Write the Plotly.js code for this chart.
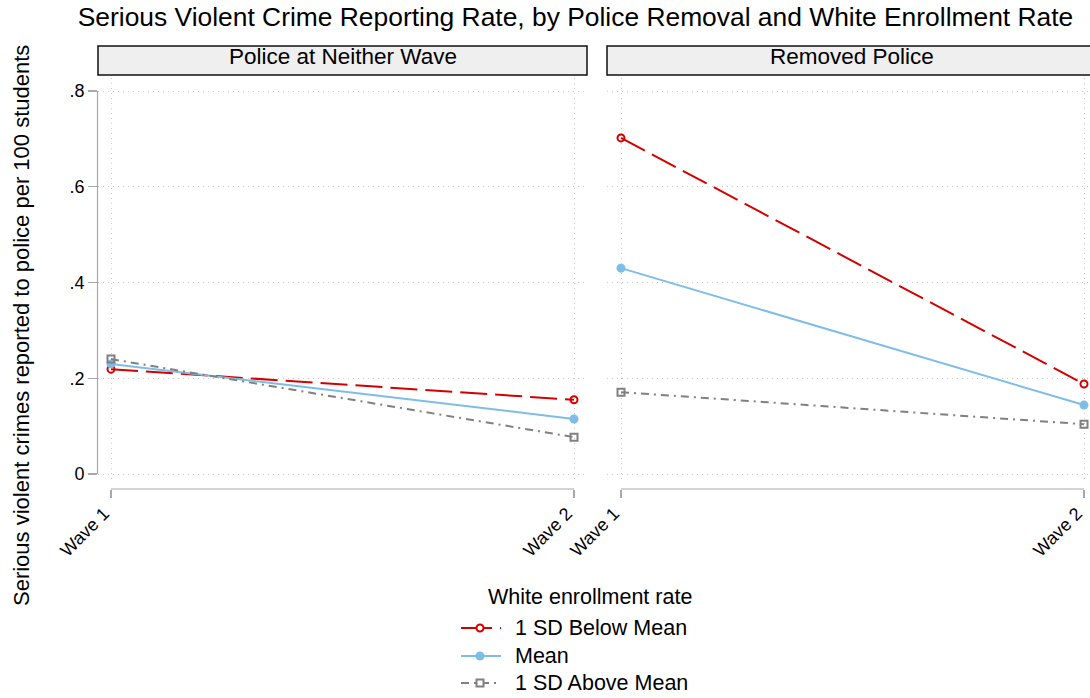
<!DOCTYPE html>
<html>
<head>
<meta charset="utf-8">
<script src="https://cdn.plot.ly/plotly-3.0.1.min.js"></script>
<style>
  html, body { margin: 0; padding: 0; background: #fff; }
  #chart { width: 1090px; height: 698px; }
</style>
</head>
<body>
<div id="chart"></div>
<script>
// Waves on the x axis
const waves = [1, 2];
const waveLabels = ["Wave 1", "Wave 2"];

// Panel headers
const panelTitles = ["Police at Neither Wave", "Removed Police"];

// Predicted serious violent crime reports per 100 students
// Panel 1: police at neither wave
const neitherBelow = [0.219, 0.155];
const neitherMean  = [0.230, 0.115];
const neitherAbove = [0.240, 0.077];
// Panel 2: removed police
const removedBelow = [0.702, 0.188];
const removedMean  = [0.430, 0.144];
const removedAbove = [0.171, 0.104];

// Y tick values and labels
const yTickVals = [0, 0.2, 0.4, 0.6, 0.8];
const yTickText = ["0", ".2", ".4", ".6", ".8"];

const seriesNames = ["1 SD Below Mean", "Mean", "1 SD Above Mean"];
const legendTitle = "White enrollment rate";

const W = 1090, H = 698;
const px = v => v / W;            // horizontal pixel -> paper fraction
const py = v => 1 - v / H;        // vertical pixel -> paper fraction

const FONT = "Liberation Sans, Arial, sans-serif";

const styles = [
  { color: "#d40000", dash: "27px,8px", symbol: "circle-open", size: 7, mline: 2 },
  { color: "#7dbde8", dash: "solid",   symbol: "circle",      size: 9, mline: 0 },
  { color: "#808080", dash: "8px,5px,2px,5px", symbol: "square-open", size: 7, mline: 2 }
];

function trace(y, i, xa, ya) {
  const s = styles[i];
  return {
    x: waves, y: y, type: "scatter", mode: "lines+markers",
    name: seriesNames[i], xaxis: xa, yaxis: ya, showlegend: false,
    line: { color: s.color, width: 2, dash: s.dash },
    marker: { color: s.color, symbol: s.symbol, size: s.size,
              line: { color: s.color, width: s.mline } },
    cliponaxis: false,
    hoverinfo: "x+y"
  };
}

const data = [
  trace(neitherBelow, 0, "x", "y"),
  trace(neitherMean,  1, "x", "y"),
  trace(neitherAbove, 2, "x", "y"),
  trace(removedBelow, 0, "x2", "y2"),
  trace(removedMean,  1, "x2", "y2"),
  trace(removedAbove, 2, "x2", "y2")
];

const gridColor = "#c8c8c8";
const gridDash = "1px,4px";
const axisColor = "#a8a8a8";
const yDomain = [py(482), py(78)];
const yRange = [-0.0167, 0.8272];
const xAxisPos = py(489);

function xAxis(domain, range) {
  return {
    domain: domain, range: range, anchor: "free", position: xAxisPos,
    tickvals: waves, ticktext: waveLabels, tickangle: -45,
    ticks: "outside", ticklen: 8, tickwidth: 1.2, tickcolor: axisColor,
    ticklabeloverflow: "allow", ticklabelshift: -7, ticklabelstandoff: -2,
    showline: false, zeroline: false,
    showgrid: true, gridcolor: gridColor, griddash: gridDash, gridwidth: 1,
    tickfont: { family: FONT, size: 18, color: "#000" },
    fixedrange: true
  };
}

function yAxis(anchor, showLabels) {
  return {
    domain: yDomain, range: yRange, anchor: anchor,
    tickvals: yTickVals, ticktext: yTickText,
    ticks: showLabels ? "outside" : "", ticklen: 9, tickwidth: 1.2, tickcolor: axisColor,
    showticklabels: showLabels,
    showline: false, zeroline: false,
    showgrid: true, gridcolor: gridColor, griddash: gridDash, gridwidth: 1,
    tickfont: { family: FONT, size: 18, color: "#000" },
    fixedrange: true
  };
}

const shapes = [
  // y axis line spanning the tick range
  { type: "line", xref: "paper", yref: "y", x0: px(97.5), x1: px(97.5), y0: 0, y1: 0.8,
    line: { color: axisColor, width: 1.2 } },
  // x axis lines between the first and last wave
  { type: "line", xref: "x", yref: "paper", x0: 1, x1: 2, y0: xAxisPos, y1: xAxisPos,
    line: { color: axisColor, width: 1.2 } },
  { type: "line", xref: "x2", yref: "paper", x0: 1, x1: 2, y0: xAxisPos, y1: xAxisPos,
    line: { color: axisColor, width: 1.2 } },
  // panel header boxes
  { type: "rect", xref: "paper", yref: "paper", x0: px(98), x1: px(587), y0: py(75), y1: py(46),
    fillcolor: "#efefef", line: { color: "#111", width: 1.5 } },
  { type: "rect", xref: "paper", yref: "paper", x0: px(607), x1: px(1100), y0: py(75), y1: py(46),
    fillcolor: "#efefef", line: { color: "#111", width: 1.5 } }
];

const annotations = [
  { text: panelTitles[0], xref: "paper", yref: "paper", x: px(342.5), y: py(57),
    xanchor: "center", yanchor: "middle",
    showarrow: false, font: { family: FONT, size: 22.5, color: "#000" } },
  { text: panelTitles[1], xref: "paper", yref: "paper", x: px(852), y: py(57),
    xanchor: "center", yanchor: "middle",
    showarrow: false, font: { family: FONT, size: 22.5, color: "#000" } },
  { text: "Serious violent crimes reported to police per 100 students",
    xref: "paper", yref: "paper", x: px(22), y: py(326), textangle: -90,
    xanchor: "center", yanchor: "middle",
    showarrow: false, font: { family: FONT, size: 22, color: "#000" } }
];

// Legend: title, then one row per series with a line/marker key and its name
const legendFont = { family: FONT, size: 21.5, color: "#000" };
const keyX0 = 461, keyX1 = 501, keyMid = 480, textX = 513;
const rowY = [628, 656, 683];
annotations.push({ text: legendTitle, xref: "paper", yref: "paper",
  x: px(590), y: py(597), xanchor: "center", yanchor: "middle",
  showarrow: false, font: legendFont });
seriesNames.forEach((name, i) => {
  const s = styles[i];
  const yy = rowY[i];
  const keyDash = i === 0 ? "31px,8px" : s.dash;
  shapes.push({ type: "line", xref: "paper", yref: "paper",
    x0: px(keyX0), x1: px(keyX1), y0: py(yy), y1: py(yy),
    line: { color: s.color, width: 2, dash: keyDash } });
  const r = s.size / 2;
  shapes.push({ type: s.symbol.startsWith("square") ? "rect" : "circle",
    xref: "paper", yref: "paper",
    x0: px(keyMid - r), x1: px(keyMid + r), y0: py(yy + r), y1: py(yy - r),
    fillcolor: s.mline ? "#fff" : s.color,
    line: { color: s.color, width: s.mline ? 2 : 0 } });
  annotations.push({ text: name, xref: "paper", yref: "paper",
    x: px(textX), y: py(yy), xanchor: "left", yanchor: "middle",
    showarrow: false, font: legendFont });
});

const layout = {
  width: W, height: H,
  margin: { l: 0, r: 0, t: 0, b: 0 },
  paper_bgcolor: "#fff", plot_bgcolor: "#fff",
  font: { family: FONT, color: "#000" },
  title: { text: "Serious Violent Crime Reporting Rate, by Police Removal and White Enrollment Rate",
           x: px(575.5), xanchor: "center", y: py(17), yanchor: "middle",
           font: { family: FONT, size: 26.4, color: "#000" } },
  xaxis: xAxis([px(98), px(587)], [1 - 13 / 463, 2 + 13 / 463]),
  xaxis2: xAxis([px(607), 1], [1 - 14 / 463, 2 + 6 / 463]),
  yaxis: yAxis("x", true),
  yaxis2: yAxis("x2", false),
  shapes: shapes,
  annotations: annotations,
  showlegend: false,
  hovermode: false
};

Plotly.newPlot("chart", data, layout, { displayModeBar: false, staticPlot: true });
</script>
</body>
</html>
